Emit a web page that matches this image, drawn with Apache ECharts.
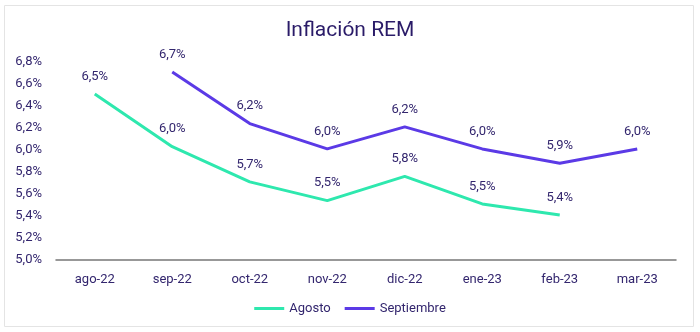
<!DOCTYPE html>
<html>
<head>
<meta charset="utf-8">
<script src="https://cdn.jsdelivr.net/npm/echarts@6/dist/echarts.min.js"></script>
<style>html,body{margin:0;padding:0;background:#fff}#c{width:700px;height:332px}</style>
</head>
<body>
<div id="c"></div>
<script>
var categories = ['ago-22','sep-22','oct-22','nov-22','dic-22','ene-23','feb-23','mar-23'];
var agosto = [6.51, 6.03, 5.71, 5.54, 5.76, 5.51, 5.41, null];
var septiembre = [null, 6.71, 6.24, 6.01, 6.21, 6.01, 5.88, 6.01];
var seriesNames = ['Agosto', 'Septiembre'];
var titleText = 'Inflación REM';

var txt = '#33266e';
var font = 'Roboto';
function fmt(v){ return v.toFixed(1).replace('.', ',') + '%'; }

var chart = echarts.init(document.getElementById('c'));
chart.setOption({
  animation: false,
  textStyle: {fontFamily: font},
  graphic: [{type:'rect', shape:{x:4.5,y:5.5,width:689,height:321}, style:{fill:'none', stroke:'#e4e4e4', lineWidth:1}, silent:true}],
  title: {text: titleText, left: 'center', top: 15, textStyle: {fontFamily: font, fontSize: 21, fontWeight: 'normal', color: '#2a1b68'}},
  grid: {left: 56, right: 24, top: 62, bottom: 72},
  legend: {bottom: 12, left: 'center', itemWidth: 30, itemHeight: 3, itemGap: 14,
    icon: 'rect', textStyle: {color: txt, fontSize: 13, fontFamily: font}, data: seriesNames},
  xAxis: {type: 'category', data: categories, boundaryGap: true,
    axisLine: {lineStyle: {color: '#777', width: 1.5}}, axisTick: {show: false},
    axisLabel: {color: txt, fontSize: 13, margin: 13}},
  yAxis: {type: 'value', min: 5.0, max: 6.8, interval: 0.2,
    splitLine: {show: false}, axisLine: {show: false}, axisTick: {show: false},
    axisLabel: {color: txt, fontSize: 13, margin: 14, formatter: function(v){ return fmt(v); }}},
  series: [
    {name: seriesNames[0], type: 'line', data: agosto, showSymbol: true, symbol: 'circle', symbolSize: 0,
      lineStyle: {color: '#2ee8ae', width: 3}, itemStyle: {color: '#2ee8ae'},
      label: {show: true, position: 'top', distance: 11, color: txt, fontSize: 13, formatter: function(p){ return fmt(p.value); }}},
    {name: seriesNames[1], type: 'line', data: septiembre, showSymbol: true, symbol: 'circle', symbolSize: 0,
      lineStyle: {color: '#5b3ae6', width: 3}, itemStyle: {color: '#5b3ae6'},
      label: {show: true, position: 'top', distance: 11, color: txt, fontSize: 13, formatter: function(p){ return fmt(p.value); }}}
  ]
});
</script>
</body>
</html>
